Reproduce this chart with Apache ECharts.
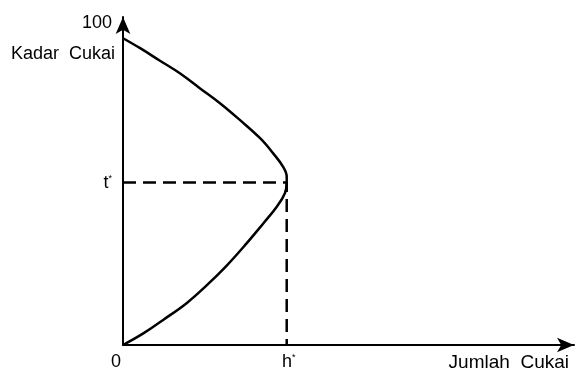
<!DOCTYPE html>
<html>
<head>
<meta charset="utf-8">
<script src="https://cdn.jsdelivr.net/npm/echarts@6/dist/echarts.min.js"></script>
<style>
html,body{margin:0;padding:0;background:#fff;}
#c{width:583px;height:372px;}
</style>
</head>
<body>
<div id="c"></div>
<script>
// Laffer curve (Kadar Cukai vs Jumlah Cukai)
const hStar = 36.3;   // Jumlah Cukai at peak
const tStar = 50.5;   // Kadar Cukai at peak
const curveRevenue = [0, 3.8, 8.2, 12.6, 17.1, 21.5, 25.9, 30.4, 33.3, 35.5, 36.3, 36.3, 35.9, 34.1, 31.1, 27.4, 23.0, 18.6, 14.1, 8.9, 4.5, 0];
const curveRate    = [95.4, 92.3, 88.4, 84.5, 79.8, 75.2, 70.0, 64.3, 59.6, 55.4, 52.3, 50.5, 47.2, 43.0, 37.8, 31.6, 24.7, 18.6, 13.0, 7.8, 3.6, 0];
const yTickValues = [100, tStar];
const xTickValues = [0, hStar];
const xAxisTitle = 'Jumlah  Cukai';
const yAxisTitle = 'Kadar  Cukai';

const FONT = '"Liberation Sans", Arial, Helvetica, sans-serif';
const chart = echarts.init(document.getElementById('c'), null, {renderer: 'canvas'});

chart.setOption({
  animation: false,
  backgroundColor: '#fff',
  grid: {left: 123, right: 9, top: 17, bottom: 27, containLabel: false},
  xAxis: {
    type: 'value', min: 0, max: 100,
    splitLine: {show: false},
    axisLine: {show: true, onZero: false, symbol: ['none', 'arrow'], symbolSize: [11, 17],
      lineStyle: {color: '#000', width: 2}},
    axisTick: {show: false},
    axisLabel: {
      show: true, customValues: xTickValues, margin: 8,
      color: '#000', fontFamily: FONT, fontSize: 18,
      formatter: function (v) { return v === 0 ? '{z|0}' : '{h|h}{s|*}'; },
      rich: {
        z: {fontFamily: FONT, fontSize: 18, color: '#000', padding: [0, 14, 0, 0]},
        h: {fontFamily: FONT, fontSize: 18, color: '#000', padding: [0, 0, 0, 4]},
        s: {fontFamily: FONT, fontSize: 9, color: '#000', verticalAlign: 'top', padding: [0, 0, 6, 0]}
      }
    },
    name: xAxisTitle, nameLocation: 'end', nameGap: -5,
    nameTextStyle: {fontFamily: FONT, fontSize: 19, color: '#000', align: 'right', verticalAlign: 'top', padding: [8, 0, 0, 0]}
  },
  yAxis: {
    type: 'value', min: 0, max: 102,
    splitLine: {show: false},
    axisLine: {show: true, onZero: false, symbol: ['none', 'arrow'], symbolSize: [11, 17],
      lineStyle: {color: '#000', width: 2}},
    axisTick: {show: false},
    axisLabel: {
      show: true, customValues: yTickValues, margin: 11,
      color: '#000', fontFamily: FONT, fontSize: 18,
      formatter: function (v) { return v === 100 ? '100' : '{t|t}{s|*}'; },
      rich: {
        t: {fontFamily: FONT, fontSize: 18, color: '#000'},
        s: {fontFamily: FONT, fontSize: 9, color: '#000', verticalAlign: 'top', padding: [0, 0, 6, 0]}
      }
    },
    name: yAxisTitle, nameLocation: 'end', nameGap: -37,
    nameTextStyle: {fontFamily: FONT, fontSize: 18, color: '#000', align: 'right', verticalAlign: 'middle', padding: [0, 8, 0, 0]}
  },
  series: [
    {
      type: 'line', data: curveRevenue.map((x, i) => [x, curveRate[i]]),
      smooth: 0.4, symbol: 'none', silent: true,
      lineStyle: {color: '#000', width: 2.5}
    },
    {
      type: 'line', data: [[0, tStar], [hStar, tStar], [hStar, 0]],
      symbol: 'none', silent: true,
      lineStyle: {color: '#000', width: 2.5, type: [13, 7]}
    }
  ]
});
</script>
</body>
</html>
